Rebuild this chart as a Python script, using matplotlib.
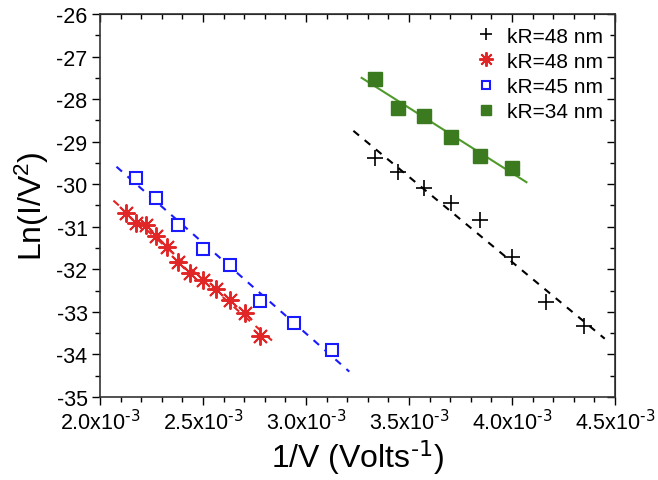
import numpy as np
import matplotlib
matplotlib.use('Agg')
import matplotlib.pyplot as plt
from matplotlib.ticker import FixedLocator, MultipleLocator

plt.rcParams['font.family'] = ['Liberation Sans', 'DejaVu Sans']
plt.rcParams['mathtext.default'] = 'regular'

# data (x in 1/V, y = Ln(I/V^2))
black_v = [300, 290, 280, 270, 260, 250, 240, 230]
black_y = [-29.39, -29.72, -30.09, -30.45, -30.84, -31.70, -32.76, -33.34]

red_v = [470, 460, 450, 440, 430, 420, 410, 400, 390, 380, 370, 360]
red_y = [-30.68, -30.92, -30.96, -31.21, -31.47, -31.82, -32.09, -32.24,
         -32.46, -32.71, -33.03, -33.56]

blue_v = [460, 440, 420, 400, 380, 360, 340, 320]
blue_y = [-29.86, -30.32, -30.97, -31.52, -31.89, -32.74, -33.26, -33.89]

green_v = [300, 290, 280, 270, 260, 250]
green_y = [-27.53, -28.22, -28.39, -28.89, -29.34, -29.63]

# x extent of the fitted lines
black_fit_x = [3.23e-3, 4.45e-3]
red_fit_x = [2.065e-3, 2.84e-3]
blue_fit_x = [2.08e-3, 3.21e-3]
green_fit_x = [3.27e-3, 4.07e-3]

labels = ['kR=48 nm', 'kR=48 nm', 'kR=45 nm', 'kR=34 nm']

fig = plt.figure(figsize=(6.58, 4.81), dpi=100)
ax = fig.add_axes([0.152, 0.1726, 0.7827, 0.7962])


def fit_line(v, y, xr):
    x = 1.0 / np.array(v)
    p = np.polyfit(x, y, 1)
    xr = np.array(xr)
    return xr, np.polyval(p, xr)


dash = (0, (3.5, 3.5))
lx, ly = fit_line(black_v, black_y, black_fit_x)
ax.plot(lx, ly, color='black', lw=1.5, linestyle=dash)
lx, ly = fit_line(red_v, red_y, red_fit_x)
ax.plot(lx, ly, color='#e02626', lw=1.5, linestyle=dash)
lx, ly = fit_line(blue_v, blue_y, blue_fit_x)
ax.plot(lx, ly, color='#1a1aff', lw=1.5, linestyle=dash)
lx, ly = fit_line(green_v, green_y, green_fit_x)
ax.plot(lx, ly, color='#4f9a2a', lw=1.5)

h1, = ax.plot(1.0 / np.array(black_v), black_y, '+', color='black', ms=11, mew=1.2,
              linestyle='none')
h2, = ax.plot(1.0 / np.array(red_v), red_y, marker=(8, 2, 0), color='#e02626', ms=13,
              mew=1.4, linestyle='none')
h3, = ax.plot(1.0 / np.array(blue_v), blue_y, 's', mfc='white', mec='#1a1aff', ms=8,
              mew=1.5, linestyle='none')
h4, = ax.plot(1.0 / np.array(green_v), green_y, 's', color='#3b7a1e', ms=9.5,
              linestyle='none')

ax.set_xlim(2.0e-3, 4.5e-3)
ax.set_ylim(-35, -26)

xt = [2.0e-3, 2.5e-3, 3.0e-3, 3.5e-3, 4.0e-3, 4.5e-3]
ax.xaxis.set_major_locator(FixedLocator(xt))
ax.set_xticklabels([r'%.1fx10$^{\text{-3}}$' % (t * 1e3) for t in xt])
ax.xaxis.set_minor_locator(MultipleLocator(1e-4))
ax.yaxis.set_major_locator(MultipleLocator(1))
ax.yaxis.set_minor_locator(MultipleLocator(0.5))
ax.set_yticklabels(['%d' % t for t in ax.get_yticks()])

ax.tick_params(which='both', direction='out', labelsize=15.5, width=1.0,
               top=False, right=False, pad=3)
ax.tick_params(which='major', length=6)
ax.tick_params(which='minor', length=3.5)

# inward ticks on top and right
sec_x = ax.secondary_xaxis('top')
sec_x.xaxis.set_major_locator(FixedLocator(xt))
sec_x.xaxis.set_minor_locator(MultipleLocator(1e-4))
sec_x.tick_params(which='both', direction='in', labeltop=False, width=1.0)
sec_x.tick_params(which='major', length=6)
sec_x.tick_params(which='minor', length=3.5)
sec_y = ax.secondary_yaxis('right')
sec_y.yaxis.set_major_locator(MultipleLocator(1))
sec_y.yaxis.set_minor_locator(MultipleLocator(0.5))
sec_y.tick_params(which='both', direction='in', labelright=False, width=1.0)
sec_y.tick_params(which='major', length=6)
sec_y.tick_params(which='minor', length=3.5)

for s in ax.spines.values():
    s.set_linewidth(1.2)
    s.set_color('#333333')

ax.set_xlabel(r'1/V (Volts$^{\text{-1}}$)', fontsize=23, labelpad=2)
ax.set_ylabel(r'Ln(I/V$^{2}$)', fontsize=23, labelpad=4)

ax.legend([h1, h2, h3, h4], labels, loc='upper right', frameon=False, fontsize=15,
          handletextpad=0.4, borderaxespad=0.2, labelspacing=0.3, handlelength=1.2,
          markerscale=0.8)

fig.savefig('out.png', dpi=100)
